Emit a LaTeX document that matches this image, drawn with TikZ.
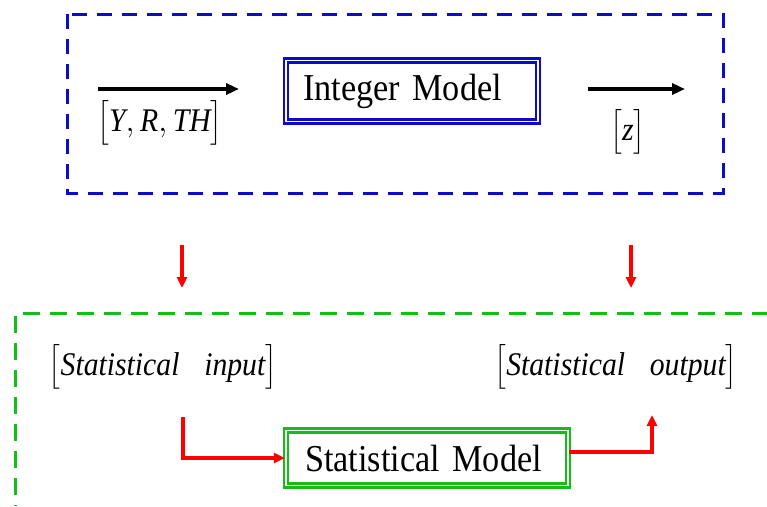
\documentclass[tikz,border=0pt]{standalone}
\usepackage{fix-cm}
\usepackage{amsmath}
\usepackage{fontspec}
\setmainfont{Liberation Serif}[FakeStretch=0.9,WordSpace=0.55]
\usepackage{tikz}
\usepackage{xcolor}
\usetikzlibrary{arrows.meta}

\definecolor{frameblue}{RGB}{12,12,200}
\definecolor{framegreen}{RGB}{20,190,20}

\begin{document}
\begin{tikzpicture}[x=1pt,y=-1pt,
  modelbox/.style={double=white,double distance=1.8pt,line width=2.4pt,inner ysep=0pt,align=left,font=\fontsize{38}{44}\selectfont},
  inlabel/.style={font=\fontsize{33}{40}\selectfont},
  blackarrow/.style={line width=3.5pt,-{Triangle[length=13pt,width=11pt]}},
  redarrow/.style={red,line width=3.2pt,-{Triangle[length=11pt,width=10pt]}}]
\useasboundingbox (0,0) rectangle (767,506);

% integer model
\draw[frameblue,line width=3pt,dash pattern=on 15pt off 10pt] (67,14) rectangle (723,193);
\node[modelbox,draw=frameblue,inner xsep=17pt,text width=218pt,minimum height=61pt] (intm) at (412,91) {Integer Model};

\coordinate (inA) at (98,89);
\coordinate (inB) at (239,89);
\draw[blackarrow] (inA) -- (inB);
\node[inlabel] (yrth) at (160,123) {$\bigl[\textit{Y},\textit{R},\textit{TH}\bigr]$};

\coordinate (outA) at (588,89);
\coordinate (outB) at (685,89);
\draw[blackarrow] (outA) -- (outB);
\node[inlabel] (zlab) at (628,132) {$\bigl[\textit{z}\bigr]$};

% red arrows down
\coordinate (downL1) at (182,245);
\coordinate (downL2) at (182,288);
\coordinate (downR1) at (631,245);
\coordinate (downR2) at (631,288);
\draw[redarrow] (downL1) -- (downL2);
\draw[redarrow] (downR1) -- (downR2);

% statistical model
\draw[framegreen,line width=3pt,dash pattern=on 17pt off 10pt] (23,313) -- (767,313);
\draw[framegreen,line width=3pt,dash pattern=on 17pt off 10pt] (15,316) -- (15,506);

\node[inlabel] (statin) at (163,367) {$\bigl[\textit{Statistical}\hspace{0.75em}\textit{input}\bigr]$};
\node[inlabel] (statout) at (616,367) {$\bigl[\textit{Statistical}\hspace{0.75em}\textit{output}\bigr]$};

\node[modelbox,draw=framegreen,inner xsep=19pt,text width=244pt,minimum height=55pt] (statm) at (427,458) {Statistical Model};

\coordinate (elbIn) at (183,417);
\coordinate (elbOut) at (652,415);
\draw[redarrow] (elbIn) |- (statm.west);
\draw[redarrow] ([yshift=6pt]statm.east) -| (elbOut);

\end{tikzpicture}
\end{document}
